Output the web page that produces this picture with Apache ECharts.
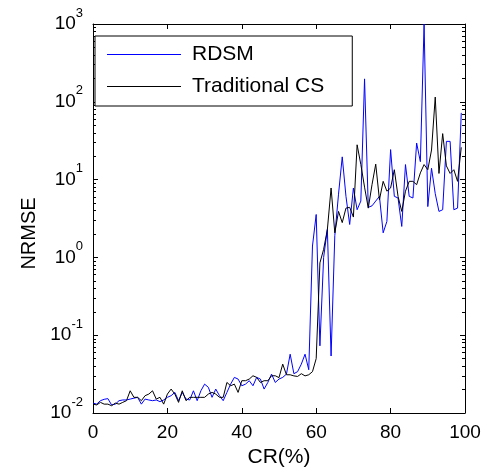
<!DOCTYPE html>
<html>
<head>
    <meta charset="utf-8">
    <title>NRMSE vs CR</title>
    <script src="https://cdn.jsdelivr.net/npm/echarts@6/dist/echarts.min.js"></script>
    <style>
        html, body { margin: 0; padding: 0; background: #fff; }
    </style>
</head>
<body>
    <div id="chart" style="width: 490px;height:473px;"></div>
    <script type="text/javascript">
    // NRMSE, one value per CR step (0..99 %)
    var rdsm = [
        0.0134, 0.013, 0.0144, 0.015, 0.0153, 0.0127, 0.013, 0.0144, 0.0147, 0.0147,
        0.0151, 0.0155, 0.0159, 0.013, 0.0151, 0.0147, 0.0144, 0.0147, 0.014, 0.0147,
        0.0159, 0.0167, 0.0184, 0.0144, 0.0184, 0.0151, 0.0147, 0.0193, 0.0144, 0.0193,
        0.0235, 0.0214, 0.0159, 0.0203, 0.0167, 0.0144, 0.0184, 0.0235, 0.0287, 0.0273,
        0.0224, 0.0235, 0.026, 0.0224, 0.0287, 0.0273, 0.0203, 0.0247, 0.0316, 0.0247,
        0.0273, 0.0287, 0.0316, 0.057, 0.032, 0.034, 0.0425, 0.057, 0.036, 1.4,
        3.56, 0.073, 1.0, 2.3, 0.054, 1.9, 6.5, 19.6, 6.1, 2.65,
        7.8, 4.1, 5.3, 197, 4.4, 4.6, 5.3, 6.1, 2.07, 2.9,
        24.3, 6.1, 5.8, 2.5, 15.6, 6.1, 5.8, 29.5, 17, 1000,
        4.5, 14, 6.6, 3.9, 4.1, 31, 31, 4.1, 4.3, 72
    ];
    var tradCS = [
        0.013, 0.0127, 0.0137, 0.013, 0.013, 0.0124, 0.0134, 0.013, 0.0137, 0.0144,
        0.0193, 0.0159, 0.0159, 0.0144, 0.0167, 0.0175, 0.0193, 0.0151, 0.0159, 0.013,
        0.0175, 0.0203, 0.0175, 0.0137, 0.0193, 0.0144, 0.0159, 0.0159, 0.0159, 0.0159,
        0.0159, 0.0175, 0.0184, 0.0175, 0.0159, 0.0159, 0.0247, 0.0224, 0.0235, 0.0184,
        0.026, 0.026, 0.0273, 0.0301, 0.0287, 0.0247, 0.026, 0.026, 0.0301, 0.0301,
        0.0285, 0.0425, 0.031, 0.031, 0.030, 0.0295, 0.032, 0.030, 0.031, 0.034,
        0.05, 0.85, 1.27, 2.28, 7.8, 2.07, 3.9, 2.8, 4.3, 4.4,
        3.3, 28, 15.6, 8, 4.3, 8.6, 15.8, 5.5, 9.5, 7.1,
        7.8, 13.4, 6.1, 3.9, 7.1, 9.5, 9.5, 8.6, 12.2, 15.6,
        13.4, 24, 115, 12, 39, 15, 12, 13.4, 9.5, 26
    ];
    var cr = rdsm.map(function (v, i) { return i; });   // x positions, CR in %
    var seriesNames = ['RDSM', 'Traditional CS'];

    var font = 'Liberation Sans, Arial, sans-serif';

    function pairs(ys) {
        var out = [];
        for (var i = 0; i < ys.length; i++) {
            out.push([cr[i], ys[i]]);
        }
        return out;
    }

    // log axis, ticks pointing in (matlab box style)
    function logAxis(pos, labels) {
        var ax = {
            type: 'log',
            logBase: 10,
            min: 0.01,
            max: 1000,
            position: pos,
            axisLine: { show: true, onZero: false, lineStyle: { color: '#000', width: 1 } },
            axisTick: { show: true, inside: true, length: 5, lineStyle: { color: '#000', width: 1 } },
            minorTick: { show: true, splitNumber: 9, length: 3, lineStyle: { color: '#000', width: 1 } },
            splitLine: { show: false },
            minorSplitLine: { show: false },
            axisLabel: { show: false }
        };
        if (labels) {
            ax.axisLabel = {
                show: true,
                margin: 10,
                formatter: function (v) {
                    var e = Math.round(Math.log(v) / Math.LN10);
                    return '{b|10}{s|' + e + '}';
                },
                rich: {
                    b: { fontSize: 19, fontFamily: font, color: '#000', padding: [8, 0, 8, 0], verticalAlign: 'bottom' },
                    s: { fontSize: 13, fontFamily: font, color: '#000', lineHeight: 14, verticalAlign: 'top' }
                }
            };
        }
        return ax;
    }

    function xAx(pos, labels) {
        var ax = {
            type: 'value',
            min: 0,
            max: 100,
            interval: 20,
            position: pos,
            axisLine: { show: true, onZero: false, lineStyle: { color: '#000', width: 1 } },
            axisTick: { show: true, inside: true, length: 5, lineStyle: { color: '#000', width: 1 } },
            axisLabel: { show: false },
            splitLine: { show: false }
        };
        if (labels) {
            ax.name = 'CR(%)';
            ax.nameLocation = 'middle';
            ax.nameGap = 34;
            ax.nameTextStyle = { fontSize: 21, fontFamily: font, color: '#000' };
            ax.axisLabel = { show: true, fontSize: 19, fontFamily: font, color: '#000', margin: 10 };
        }
        return ax;
    }

    var chart = echarts.init(document.getElementById('chart'));
    var leftAxis = logAxis('left', true);
    leftAxis.name = 'NRMSE';
    leftAxis.nameLocation = 'middle';
    leftAxis.nameGap = 53;
    leftAxis.nameTextStyle = { fontSize: 20, fontFamily: font, color: '#000', padding: [0, 30, 0, 0] };

    chart.setOption({
        animation: false,
        backgroundColor: '#fff',
        grid: { left: 93, right: 25, top: 24, bottom: 59, containLabel: false },
        legend: {
            data: seriesNames,
            orient: 'vertical',
            left: 95,
            top: 36,
            icon: 'rect',
            backgroundColor: '#fff',
            borderColor: '#000',
            borderWidth: 1,
            borderRadius: 0,
            padding: [8, 28, 9, 12],
            itemWidth: 74,
            itemHeight: 1,
            itemGap: 11,
            textStyle: { fontSize: 21, fontFamily: font, color: '#000', padding: [0, 0, 0, 6], lineHeight: 21 }
        },
        xAxis: [xAx('bottom', true), xAx('top', false)],
        yAxis: [leftAxis, logAxis('right', false)],
        series: [{
            name: seriesNames[0],
            type: 'line',
            xAxisIndex: 0,
            yAxisIndex: 0,
            data: pairs(rdsm),
            symbol: 'none',
            showSymbol: false,
            clip: true,
            lineStyle: { color: '#0000ff', width: 1 },
            itemStyle: { color: '#0000ff' }
        }, {
            name: seriesNames[1],
            type: 'line',
            xAxisIndex: 0,
            yAxisIndex: 0,
            data: pairs(tradCS),
            symbol: 'none',
            showSymbol: false,
            clip: true,
            lineStyle: { color: '#000000', width: 1 },
            itemStyle: { color: '#000000' }
        }]
    });
    </script>
</body>
</html>
